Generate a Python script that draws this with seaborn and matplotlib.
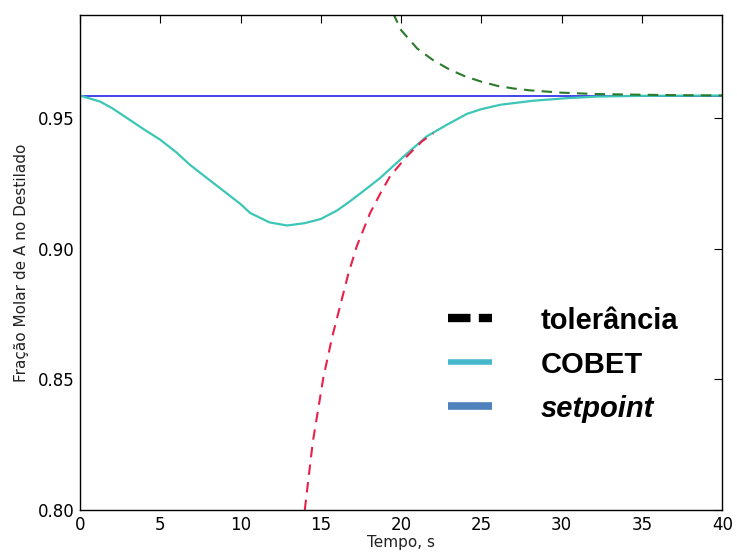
import matplotlib
matplotlib.use("Agg")
import matplotlib.pyplot as plt
import seaborn as sns
from matplotlib.lines import Line2D

# Data
setpoint_value = 0.9585
setpoint_t = [0, 40]

cobet_t = [0, 1.25, 2, 3.1, 4, 5, 6, 6.85, 8, 8.7, 10, 10.6, 11.8, 12.9, 14, 15, 16, 16.8, 17.7, 18.7, 19.5, 20.4, 21.6, 22.9, 24.1, 25, 26.2, 28.2, 30.3, 32.2, 35, 40]
cobet_y = [0.9585, 0.9562, 0.9537, 0.9492, 0.9455, 0.9416, 0.9368, 0.9320, 0.9265, 0.9232, 0.9170, 0.9136, 0.9100, 0.9088, 0.9097, 0.9113, 0.9145, 0.9180, 0.9222, 0.9270, 0.9315, 0.9365, 0.9429, 0.9475, 0.9515, 0.9533, 0.9550, 0.9565, 0.9575, 0.9581, 0.9584, 0.9585]

lower_t = [14.0, 14.5, 15.16, 15.7, 16.2, 16.7, 17.24, 18.07, 18.7, 19.31, 20.35, 21.3, 22.0]
lower_y = [0.800, 0.826, 0.8507, 0.866, 0.878, 0.890, 0.9009, 0.9136, 0.921, 0.9276, 0.9352, 0.941, 0.944]

upper_t = [19.5, 20.0, 21.0, 22.0, 23.0, 24.0, 25.0, 26.0, 27.0, 28.0, 30.0, 32.0, 35.0, 38.0, 40.0]
upper_y = [0.990, 0.9835, 0.9765, 0.9720, 0.9685, 0.9658, 0.9638, 0.9622, 0.9612, 0.9605, 0.9596, 0.9591, 0.9588, 0.9586, 0.9585]

legend_labels = ["tolerância", "COBET", "setpoint"]
x_ticks = [0, 5, 10, 15, 20, 25, 30, 35, 40]
y_ticks = [0.80, 0.85, 0.90, 0.95]

sns.set_style("white")
plt.rcParams["font.family"] = ["DejaVu Sans"]

fig = plt.figure(figsize=(7.37, 5.56), dpi=100)
ax = fig.add_axes([0.1085, 0.0827, 0.8715, 0.8903])

sns.lineplot(x=setpoint_t, y=[setpoint_value] * len(setpoint_t), ax=ax, color="#1414e6", linewidth=1.1)
sns.lineplot(x=cobet_t, y=cobet_y, ax=ax, color="#3cc6b6", linewidth=1.6)
sns.lineplot(x=lower_t, y=lower_y, ax=ax, color="#e8204a", linewidth=1.5, linestyle=(0, (5, 3.5)))
sns.lineplot(x=upper_t, y=upper_y, ax=ax, color="#2a7a2a", linewidth=1.5, linestyle=(0, (5, 3.5)))

ax.set_xlim(0, 40)
ax.set_ylim(0.80, 0.9893)
ax.set_xticks(x_ticks)
ax.set_xticklabels([str(t) for t in x_ticks])
ax.set_yticks(y_ticks)
ax.set_yticklabels([f"{v:.2f}" for v in y_ticks])
ax.tick_params(direction="in", top=True, right=True, length=6, width=0.8, labelsize=12, colors="black", pad=4)
ax.set_xlabel("Tempo, s", fontsize=11, labelpad=1, color="#222222")
ax.set_ylabel("Fração Molar de A no Destilado", fontsize=11, labelpad=6, color="#222222")
for s in ax.spines.values():
    s.set_color("black")
    s.set_linewidth(1.0)

handles = [
    Line2D([0], [0], color="black", linewidth=6, linestyle=(0, (2.7, 1.0)), dash_capstyle="butt"),
    Line2D([0], [0], color="#46b8cc", linewidth=4, solid_capstyle="butt"),
    Line2D([0], [0], color="#4f81bd", linewidth=5.5, solid_capstyle="butt"),
]
leg = ax.legend(handles, legend_labels, loc="upper left", bbox_to_anchor=(0.532, 0.464),
                frameon=False, handlelength=1.5, handletextpad=1.68, labelspacing=0.55,
                prop={"family": "Liberation Sans", "weight": "bold", "size": 21})
for t in leg.get_texts():
    t.set_color("black")
leg.get_texts()[2].set_style("italic")

fig.savefig("out.png", dpi=100)
